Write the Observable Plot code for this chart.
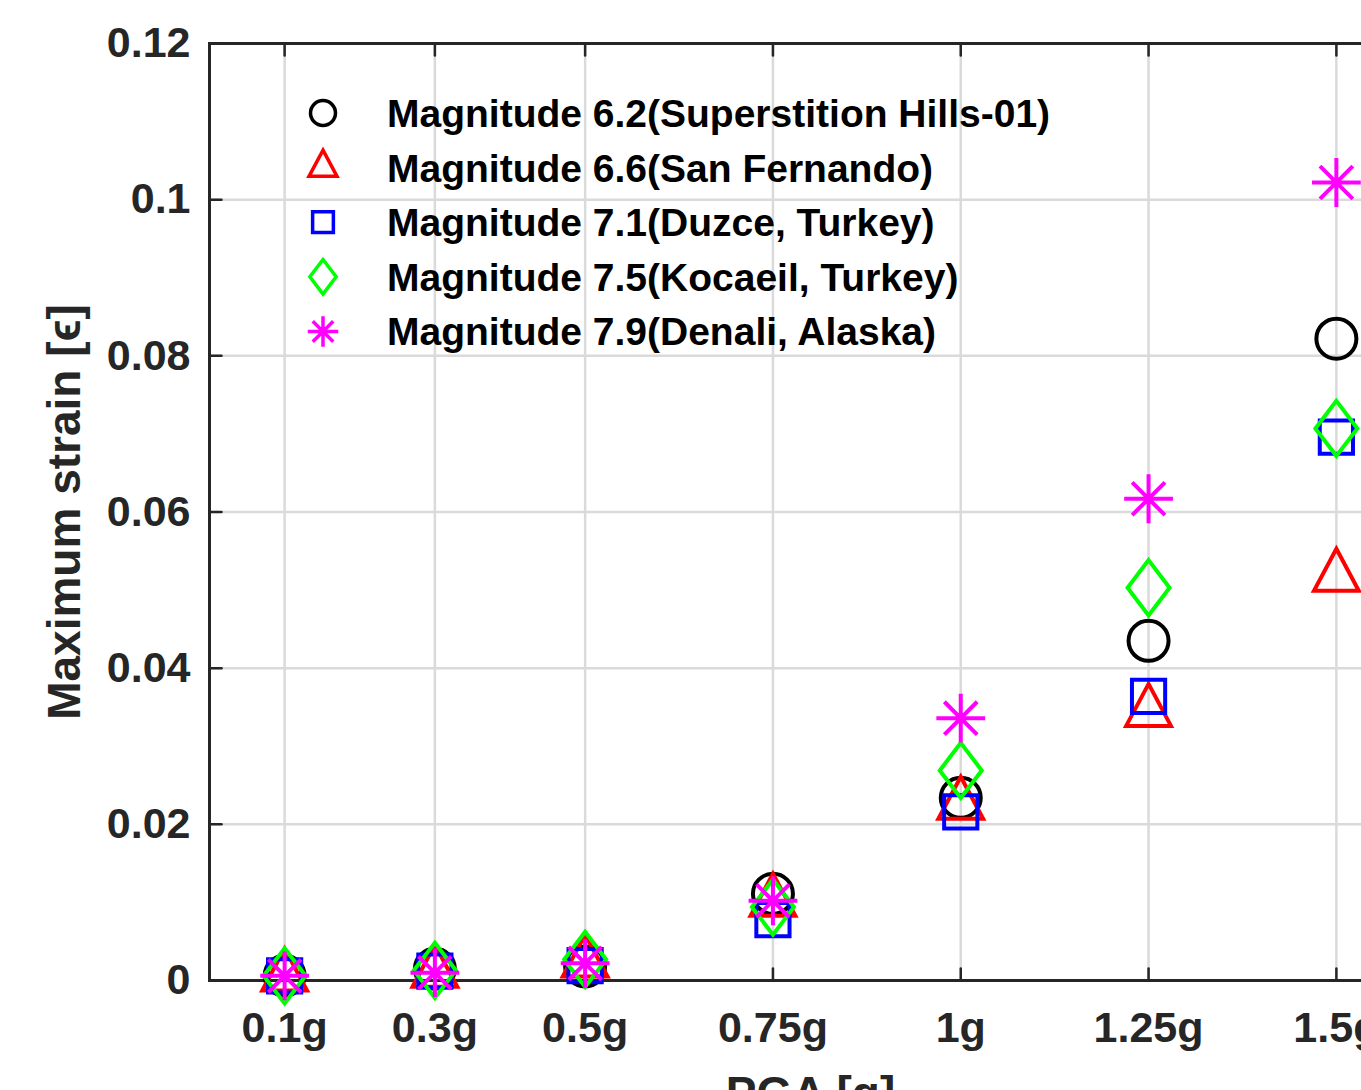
<!DOCTYPE html>
<html>
<head>
<meta charset="utf-8">
<script src="https://cdn.jsdelivr.net/npm/d3@7"></script>
<script src="https://cdn.jsdelivr.net/npm/@observablehq/plot@0.6"></script>
<style>
  html, body { margin: 0; padding: 0; background: white; overflow: hidden; width: 1361px; height: 1090px; }
  #chart { position: absolute; left: 0; top: 0; width: 1440px; }
  #chart svg { max-width: none !important; }
</style>
</head>
<body>
<div id="chart"></div>
<script>
// ---- data ----
const pga = [0.1, 0.3, 0.5, 0.75, 1, 1.25, 1.5];
const xTickLabels = ["0.1g", "0.3g", "0.5g", "0.75g", "1g", "1.25g", "1.5g"];
const yTicks = [0, 0.02, 0.04, 0.06, 0.08, 0.1, 0.12];
const yTickLabels = ["0", "0.02", "0.04", "0.06", "0.08", "0.1", "0.12"];

const seriesNames = [
  "Magnitude 6.2(Superstition Hills-01)",
  "Magnitude 6.6(San Fernando)",
  "Magnitude 7.1(Duzce, Turkey)",
  "Magnitude 7.5(Kocaeil, Turkey)",
  "Magnitude 7.9(Denali, Alaska)"
];
const m62 = [0.0006, 0.0015, 0.0018, 0.0111, 0.0234, 0.0435, 0.0822];
const m66 = [0.0005, 0.0010, 0.0023, 0.0101, 0.0225, 0.0344, 0.0517];
const m71 = [0.0006, 0.0012, 0.0019, 0.0078, 0.0216, 0.0364, 0.0696];
const m75 = [0.0006, 0.0013, 0.0027, 0.0094, 0.0269, 0.0503, 0.0707];
const m79 = [0.0006, 0.0010, 0.0022, 0.0102, 0.0336, 0.0617, 0.1022];
const seriesValues = [m62, m66, m71, m75, m79];
const seriesColors = ["#000000", "#ff0000", "#0000ff", "#00ff00", "#ff00ff"];

const xLabel = "PGA [g]";
const yLabel = "Maximum strain [\u03F5]";

// ---- MATLAB-like marker symbols ----
const rad = (size) => Math.sqrt(size / Math.PI);
const symCircle = { draw(c, size) { const R = rad(size); c.moveTo(R, 0); c.arc(0, 0, R, 0, 2 * Math.PI); c.closePath(); } };
const symTriangle = { draw(c, size) { const R = rad(size); const h = 2.1 * R, w = 1.12 * R;
  c.moveTo(0, -2 * h / 3); c.lineTo(w, h / 3); c.lineTo(-w, h / 3); c.closePath(); } };
const symSquare = { draw(c, size) { const R = rad(size); const s = 0.83 * R;
  c.moveTo(-s, -s); c.lineTo(s, -s); c.lineTo(s, s); c.lineTo(-s, s); c.closePath(); } };
const symDiamond = { draw(c, size) { const R = rad(size); const h = 1.38 * R, w = 1.05 * R;
  c.moveTo(0, -h); c.lineTo(w, 0); c.lineTo(0, h); c.lineTo(-w, 0); c.closePath(); } };
const symAsterisk = { draw(c, size) { const R = rad(size); const a = 1.22 * R, d = 0.82 * R;
  c.moveTo(-a, 0); c.lineTo(a, 0); c.moveTo(0, -a); c.lineTo(0, a);
  c.moveTo(-d, -d); c.lineTo(d, d); c.moveTo(-d, d); c.lineTo(d, -d); } };
const seriesSymbols = [symCircle, symTriangle, symSquare, symDiamond, symAsterisk];

const rows = [];
seriesValues.forEach((vals, s) => vals.forEach((v, i) => rows.push({ s, x: pga[i], y: v })));

const tickShape = { draw(c, l) { c.moveTo(0, 0); c.lineTo(0, -l); } };
const axisColor = "#262626";
const gridColor = "#dadada";
const font = "'Liberation Sans', Arial, Helvetica, sans-serif";

const chart = Plot.plot({
  width: 1440,
  height: 1120,
  marginLeft: 209,
  marginRight: 29,
  marginTop: 43,
  marginBottom: 140,
  x: { domain: [0, 1.6] },
  y: { domain: [0, 0.12] },
  style: { fontFamily: font, background: "white", overflow: "visible", maxWidth: "none" },
  marks: [
    Plot.gridX(pga, { stroke: gridColor, strokeOpacity: 1, strokeWidth: 2.5 }),
    Plot.gridY(yTicks, { stroke: gridColor, strokeOpacity: 1, strokeWidth: 2.5 }),
    Plot.frame({ stroke: axisColor, strokeWidth: 3 }),
    Plot.vector(yTicks, { x: () => 0, y: (d) => d, length: 12, rotate: 90, anchor: "start", shape: tickShape, stroke: axisColor, strokeWidth: 2.5 }),
    Plot.vector(pga, { x: (d) => d, y: () => 0, length: 12, rotate: 0, anchor: "start", shape: tickShape, stroke: axisColor, strokeWidth: 2.5 }),
    Plot.vector(pga, { x: (d) => d, y: () => 0.12, length: 12, rotate: 180, anchor: "start", shape: tickShape, stroke: axisColor, strokeWidth: 2.5 }),
    Plot.axisX(pga, { tickSize: 0, tickPadding: 31, tickFormat: (d) => xTickLabels[pga.indexOf(d)], fontSize: 43, fontWeight: "bold", fill: axisColor, label: null }),
    Plot.axisY(yTicks, { tickSize: 0, tickPadding: 19, tickFormat: (d) => yTickLabels[yTicks.indexOf(d)], fontSize: 43, fontWeight: "bold", fill: axisColor, label: null }),
    Plot.text([yLabel], { frameAnchor: "left", dx: -144, rotate: -90, fontSize: 46, fontWeight: "bold", fill: axisColor, textAnchor: "middle", lineAnchor: "middle" }),
    Plot.text([xLabel], { frameAnchor: "bottom", dy: 128, fontSize: 46, fontWeight: "bold", fill: axisColor, textAnchor: "middle", lineAnchor: "bottom" }),
    ...seriesValues.map((vals, s) =>
      Plot.dot(rows.filter((r) => r.s === s), {
        x: "x", y: "y", r: 20, symbol: seriesSymbols[s],
        stroke: seriesColors[s], fill: "none", strokeWidth: 4, strokeLinejoin: "miter"
      })
    )
  ]
});
chart.setAttribute("width", 1440);
chart.setAttribute("height", 1120);
chart.style.width = "1440px";
chart.style.height = "1120px";
document.getElementById("chart").appendChild(chart);

// ---- legend (inside the plot, upper left) ----
const lg = d3.select(chart).append("g").attr("class", "legend").attr("text-anchor", "start");
const legendR = 12.5;
seriesNames.forEach((name, i) => {
  const cy = 113 + i * 54.6;
  lg.append("path")
    .attr("transform", `translate(323,${cy})`)
    .attr("d", d3.symbol(seriesSymbols[i], legendR * legendR * Math.PI)())
    .attr("fill", "none").attr("stroke", seriesColors[i])
    .attr("stroke-width", 3.5).attr("stroke-linejoin", "miter");
  lg.append("text")
    .attr("x", 387).attr("y", cy).attr("dy", "0.36em")
    .attr("text-anchor", "start")
    .attr("font-family", font).attr("font-size", 39).attr("font-weight", "bold")
    .attr("fill", "#000").text(name);
});
</script>
</body>
</html>
